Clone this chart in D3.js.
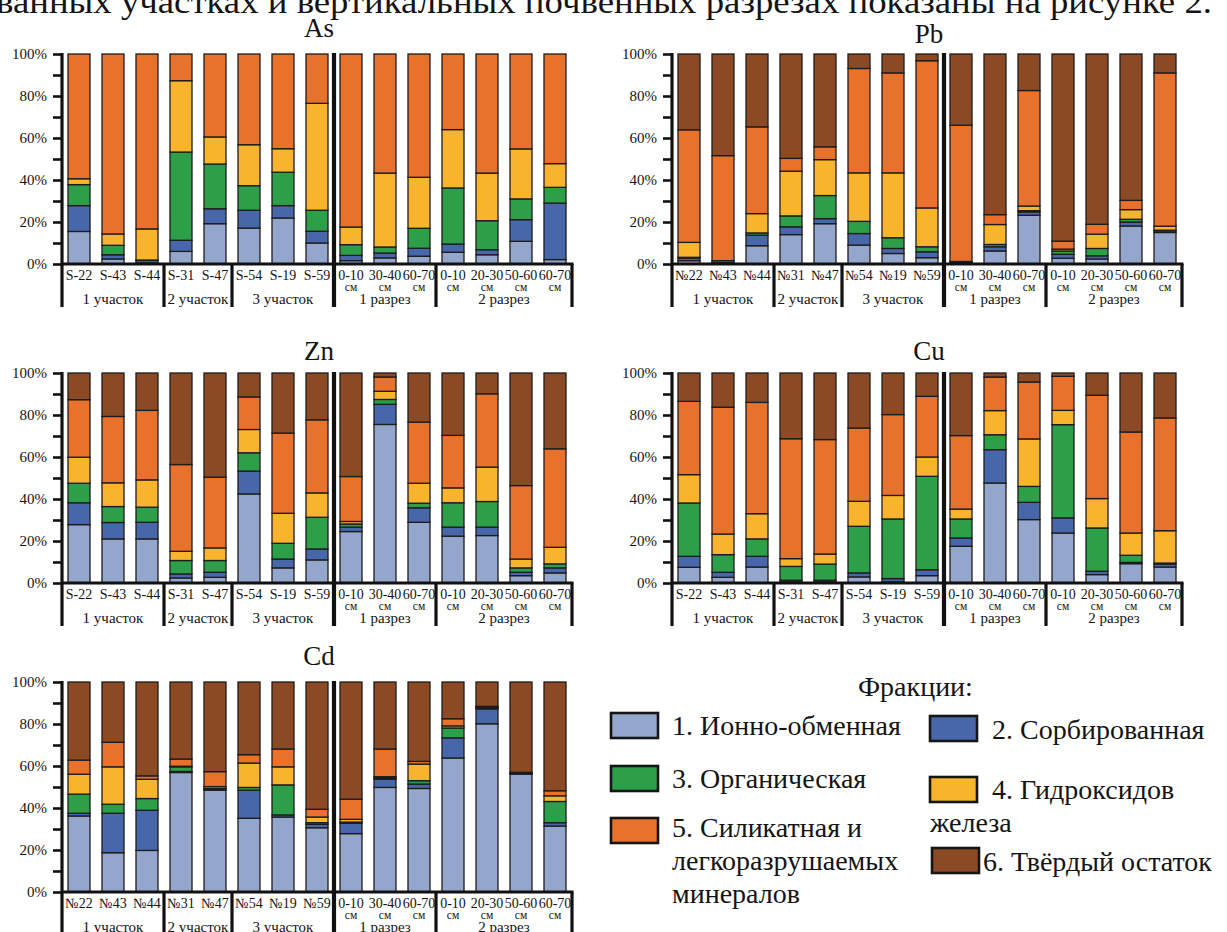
<!DOCTYPE html>
<html>
<head>
<meta charset="utf-8">
<script src="https://cdn.jsdelivr.net/npm/d3@7"></script>
<style>
  html, body { margin: 0; padding: 0; background: #ffffff; }
  svg { display: block; }
  text { font-family: "Liberation Serif", "Times New Roman", Times, serif; fill: #141414; }
</style>
</head>
<body>
<svg id="fig" width="1227" height="932" font-family="Liberation Serif, serif"></svg>
<script>
// ---- data -------------------------------------------------------------
const fractionKeys = ["f1", "f2", "f3", "f4", "f5", "f6"];
const fractionColors = ["#94a6cb", "#4867aa", "#2e9f49", "#f8b42c", "#e8722b", "#8b4a23"];
const fractionLabels = [
  ["1. Ионно-обменная"],
  ["2. Сорбированная"],
  ["3. Органическая"],
  ["4. Гидроксидов", "железа"],
  ["5. Силикатная и", "легкоразрушаемых", "минералов"],
  ["6. Твёрдый остаток"]
];
const legendTitle = "Фракции:";

const elements = ["As", "Pb", "Zn", "Cu", "Cd"];
const samplesS = ["S-22", "S-43", "S-44", "S-31", "S-47", "S-54", "S-19", "S-59"];
const samplesN = ["№22", "№43", "№44", "№31", "№47", "№54", "№19", "№59"];
const depthLabels = ["0-10", "30-40", "60-70", "0-10", "20-30", "50-60", "60-70"];
const depthUnit = "см";
const groupLabels = ["1 участок", "2 участок", "3 участок", "1 разрез", "2 разрез"];
const groupSizes = [3, 2, 3, 3, 4];
const percentTicks = [0, 10, 20, 30, 40, 50, 60, 70, 80, 90, 100];

// shares of fractions 1..6 (%) for each of the 15 samples
const asValues = [
  [15.5, 12.3, 10.0, 2.8, 59.4, 0],
  [2.4, 2.0, 4.5, 5.4, 85.7, 0],
  [0.5, 1.2, 0.2, 14.8, 83.3, 0],
  [6.0, 5.3, 42.0, 34.0, 12.7, 0],
  [19.2, 7.1, 21.3, 12.9, 39.5, 0],
  [17.1, 8.5, 11.7, 19.5, 43.2, 0],
  [21.9, 5.9, 15.9, 11.2, 45.1, 0],
  [10.0, 5.6, 10.0, 50.9, 23.5, 0],
  [1.6, 2.5, 5.1, 8.4, 82.4, 0],
  [2.9, 2.3, 2.9, 35.2, 56.7, 0],
  [3.7, 3.8, 9.5, 24.3, 58.7, 0],
  [5.6, 3.9, 26.7, 27.8, 36.0, 0],
  [4.4, 2.4, 13.8, 22.7, 56.7, 0],
  [10.8, 10.3, 9.9, 23.8, 45.2, 0],
  [2.1, 26.9, 7.5, 11.3, 52.2, 0]
];
const pbValues = [
  [1.6, 1.1, 0.5, 7.1, 53.6, 36.1],
  [0.3, 0.3, 0.2, 0.8, 50.0, 48.4],
  [8.7, 5.0, 1.1, 9.2, 41.3, 34.7],
  [14.0, 3.7, 5.2, 21.3, 6.1, 49.7],
  [19.2, 2.4, 11.0, 17.1, 6.1, 44.2],
  [9.0, 5.5, 5.8, 23.1, 49.7, 6.9],
  [5.0, 2.4, 5.1, 30.9, 47.6, 9.0],
  [3.0, 2.8, 2.4, 18.5, 70.1, 3.2],
  [0.4, 0.3, 0.2, 0.3, 64.9, 33.9],
  [6.2, 2.0, 1.1, 9.5, 4.7, 76.5],
  [23.2, 1.6, 0.6, 2.2, 55.0, 17.4],
  [2.7, 1.9, 1.6, 0.9, 3.8, 89.1],
  [2.4, 1.5, 3.5, 6.8, 4.7, 81.1],
  [18.1, 1.9, 1.3, 4.6, 4.4, 69.7],
  [15.0, 0.8, 0.3, 1.9, 73.0, 9.0]
];
const znValues = [
  [27.8, 10.4, 9.3, 12.4, 27.4, 12.7],
  [21.0, 7.8, 7.6, 11.3, 31.6, 20.7],
  [21.0, 7.9, 7.2, 13.0, 33.1, 17.8],
  [2.4, 1.9, 6.4, 4.4, 41.3, 43.6],
  [2.7, 2.4, 5.6, 6.0, 33.7, 49.6],
  [42.4, 10.9, 8.7, 11.1, 15.5, 11.4],
  [7.2, 4.2, 7.5, 14.3, 38.2, 28.6],
  [11.0, 5.2, 15.1, 11.6, 34.8, 22.3],
  [24.5, 2.1, 1.5, 1.2, 21.4, 49.3],
  [75.5, 9.6, 2.3, 3.9, 6.8, 1.9],
  [28.9, 6.9, 2.2, 9.5, 29.1, 23.4],
  [22.3, 4.3, 11.6, 7.1, 25.0, 29.7],
  [22.6, 4.0, 12.2, 16.4, 34.9, 9.9],
  [3.5, 1.6, 2.1, 4.2, 35.0, 53.6],
  [4.8, 2.4, 1.9, 7.9, 46.9, 36.1]
];
const cuValues = [
  [7.5, 5.2, 25.4, 13.5, 34.9, 13.5],
  [2.7, 2.4, 8.4, 9.8, 60.4, 16.3],
  [7.6, 5.1, 8.3, 12.0, 53.0, 14.0],
  [0.5, 0.8, 6.6, 3.7, 57.1, 31.3],
  [0.5, 0.8, 7.7, 4.8, 54.5, 31.7],
  [2.9, 1.9, 22.2, 11.9, 34.9, 26.2],
  [0.5, 1.6, 28.4, 11.2, 38.5, 19.8],
  [3.5, 2.8, 44.5, 9.2, 28.9, 11.1],
  [17.5, 3.9, 9.1, 4.7, 35.0, 29.8],
  [47.6, 15.9, 7.1, 11.5, 16.0, 1.9],
  [30.2, 8.2, 7.6, 22.6, 27.1, 4.3],
  [23.8, 7.2, 44.4, 6.8, 16.2, 1.6],
  [4.0, 1.6, 20.6, 14.0, 49.2, 10.6],
  [9.2, 0.6, 3.4, 10.6, 48.1, 28.1],
  [7.6, 1.4, 0.5, 15.4, 53.7, 21.4]
];
const cdValues = [
  [36.2, 1.3, 9.1, 9.5, 6.7, 37.2],
  [18.7, 18.8, 4.3, 17.8, 11.7, 28.7],
  [19.8, 19.1, 5.6, 9.2, 1.6, 44.7],
  [56.9, 0.5, 2.2, 0.3, 3.4, 36.7],
  [48.5, 0.5, 0.3, 0.9, 7.1, 42.7],
  [35.1, 13.4, 1.3, 11.6, 4.0, 34.6],
  [35.7, 1.0, 14.3, 8.6, 8.5, 31.9],
  [30.6, 1.6, 0.8, 2.7, 3.7, 60.6],
  [27.8, 4.9, 0.6, 1.3, 9.6, 55.8],
  [49.8, 3.9, 0.6, 0.6, 13.2, 31.9],
  [49.3, 2.1, 1.6, 7.9, 1.3, 37.8],
  [63.8, 9.6, 4.7, 1.0, 3.4, 17.5],
  [80.1, 7.1, 0.6, 0.3, 0.3, 11.6],
  [56.1, 0.4, 0.2, 0.1, 0.2, 43.0],
  [31.4, 1.6, 10.1, 2.7, 2.4, 51.8]
];

const introLine = "ванных участках и вертикальных почвенных разрезах показаны на рисунке 2.";

// ---- layout -----------------------------------------------------------
const FONT = "Liberation Serif, Times New Roman, serif";
const svg = d3.select("#fig");
const PW = 510, PH = 210;          // plot area of one panel
const BELOW = 43;                  // depth of the category frame under the axis

const panels = [
  { name: elements[0], values: asValues, samples: samplesS, x: 62,  y: 54,  titleDy: -17 },
  { name: elements[1], values: pbValues, samples: samplesN, x: 672, y: 54,  titleDy: -11 },
  { name: elements[2], values: znValues, samples: samplesS, x: 62,  y: 373, titleDy: -13 },
  { name: elements[3], values: cuValues, samples: samplesS, x: 672, y: 373, titleDy: -13 },
  { name: elements[4], values: cdValues, samples: samplesN, x: 62,  y: 682, titleDy: -17 }
];

// running paragraph line cut by the top edge
svg.append("text")
  .attr("x", -4).attr("y", 13)
  .attr("font-family", FONT)
  .attr("font-size", 34)
  .attr("textLength", 1216).attr("lengthAdjust", "spacingAndGlyphs")
  .text(introLine);

panels.forEach(p => drawPanel(p));

function drawPanel(p) {
  const g = svg.append("g").attr("transform", `translate(${p.x},${p.y})`);
  const n = p.values.length;

  const x = d3.scaleBand()
    .domain(d3.range(n))
    .range([0, PW])
    .paddingInner(12 / 34)
    .paddingOuter(6 / 34);
  const y = d3.scaleLinear().domain([0, 1]).range([PH, 0]);
  const gap = (x.step() - x.bandwidth()) / 2;

  const rows = p.values.map(v => Object.fromEntries(fractionKeys.map((k, i) => [k, v[i]])));
  const series = d3.stack().keys(fractionKeys).offset(d3.stackOffsetExpand)(rows);

  g.append("g").selectAll("g")
    .data(series)
    .join("g")
      .attr("fill", (d, i) => fractionColors[i])
    .selectAll("rect")
    .data(d => d.map((s, i) => ({ s, i })))
    .join("rect")
      .attr("x", d => x(d.i))
      .attr("width", x.bandwidth())
      .attr("y", d => y(d.s[1]))
      .attr("height", d => Math.max(0, y(d.s[0]) - y(d.s[1])))
      .attr("stroke", "#1c1c1c")
      .attr("stroke-width", 1.3);

  // y axis: ticks every 10 %, labels every 20 %
  const yAxis = d3.axisLeft(y)
    .tickValues(percentTicks.map(t => t / 100))
    .tickSize(9)
    .tickPadding(6)
    .tickFormat(d => {
      const v = Math.round(d * 100);
      return v % 20 === 0 ? v + "%" : "";
    });
  const ax = g.append("g").call(yAxis).attr("font-family", FONT);
  ax.select(".domain").remove();
  ax.selectAll(".tick line").attr("stroke", "#111").attr("stroke-width", 2.6);
  ax.selectAll(".tick text")
    .attr("font-size", 15)
    .attr("font-family", FONT)
    .attr("fill", "#222");

  // frame lines
  const frame = g.append("g").attr("stroke", "#111").attr("stroke-linecap", "butt");
  frame.append("line").attr("x1", 0).attr("x2", 0).attr("y1", -1).attr("y2", PH + BELOW).attr("stroke-width", 3.2);
  frame.append("line").attr("x1", 0).attr("x2", PW + 1.5).attr("y1", PH).attr("y2", PH).attr("stroke-width", 3.2);

  let start = 0;
  groupSizes.forEach((size, gi) => {
    const end = start + size;
    const bx = end < n ? x(end) - gap : x(n - 1) + x.bandwidth() + gap;
    const full = end === samplesS.length;      // divider between sites and soil profiles
    frame.append("line")
      .attr("x1", bx).attr("x2", bx)
      .attr("y1", full ? -1 : PH).attr("y2", PH + BELOW)
      .attr("stroke-width", full ? 4.2 : 3.2);
    const left = start === 0 ? 0 : x(start) - gap;
    g.append("text")
      .attr("x", (left + bx) / 2)
      .attr("y", PH + 40)
      .attr("text-anchor", "middle")
      .attr("font-family", FONT)
      .attr("font-size", 15)
      .text(groupLabels[gi]);
    start = end;
  });

  // category labels
  const cats = p.samples.concat(depthLabels);
  g.append("g").selectAll("text")
    .data(cats)
    .join("text")
      .attr("x", (d, i) => x(i) + x.bandwidth() / 2)
      .attr("y", PH + 16)
      .attr("text-anchor", "middle")
      .attr("font-family", FONT)
      .attr("font-size", 14)
      .text(d => d);
  g.append("g").selectAll("text")
    .data(depthLabels)
    .join("text")
      .attr("x", (d, i) => x(i + p.samples.length) + x.bandwidth() / 2)
      .attr("y", PH + 27)
      .attr("text-anchor", "middle")
      .attr("font-family", FONT)
      .attr("font-size", 11.5)
      .text(depthUnit);

  // element title
  g.append("text")
    .attr("x", PW / 2 + 2)
    .attr("y", p.titleDy)
    .attr("text-anchor", "middle")
    .attr("font-family", FONT)
    .attr("font-size", 27)
    .text(p.name);
}

// ---- legend -----------------------------------------------------------
const legendPos = [
  { sx: 611, sy: 713, tx: 672, ty: 735, wrapX: 672 },
  { sx: 930, sy: 716, tx: 992, ty: 739, wrapX: 992 },
  { sx: 611, sy: 766, tx: 672, ty: 788, wrapX: 672 },
  { sx: 930, sy: 777, tx: 992, ty: 799, wrapX: 930 },
  { sx: 611, sy: 818, tx: 672, ty: 837, wrapX: 672 },
  { sx: 932, sy: 848, tx: 983, ty: 871, wrapX: 983 }
];
const legend = svg.append("g");
legend.append("text")
  .attr("x", 858).attr("y", 696)
  .attr("font-family", FONT)
  .attr("font-size", 28)
  .text(legendTitle);

fractionLabels.forEach((lines, i) => {
  const pos = legendPos[i];
  legend.append("rect")
    .attr("x", pos.sx).attr("y", pos.sy)
    .attr("width", 47).attr("height", 25)
    .attr("fill", fractionColors[i])
    .attr("stroke", "#151515").attr("stroke-width", 2.6);
  lines.forEach((line, li) => {
    legend.append("text")
      .attr("x", li === 0 ? pos.tx : pos.wrapX)
      .attr("y", pos.ty + li * 33)
      .attr("font-family", FONT)
      .attr("font-size", 28)
      .text(line);
  });
});
</script>
</body>
</html>
